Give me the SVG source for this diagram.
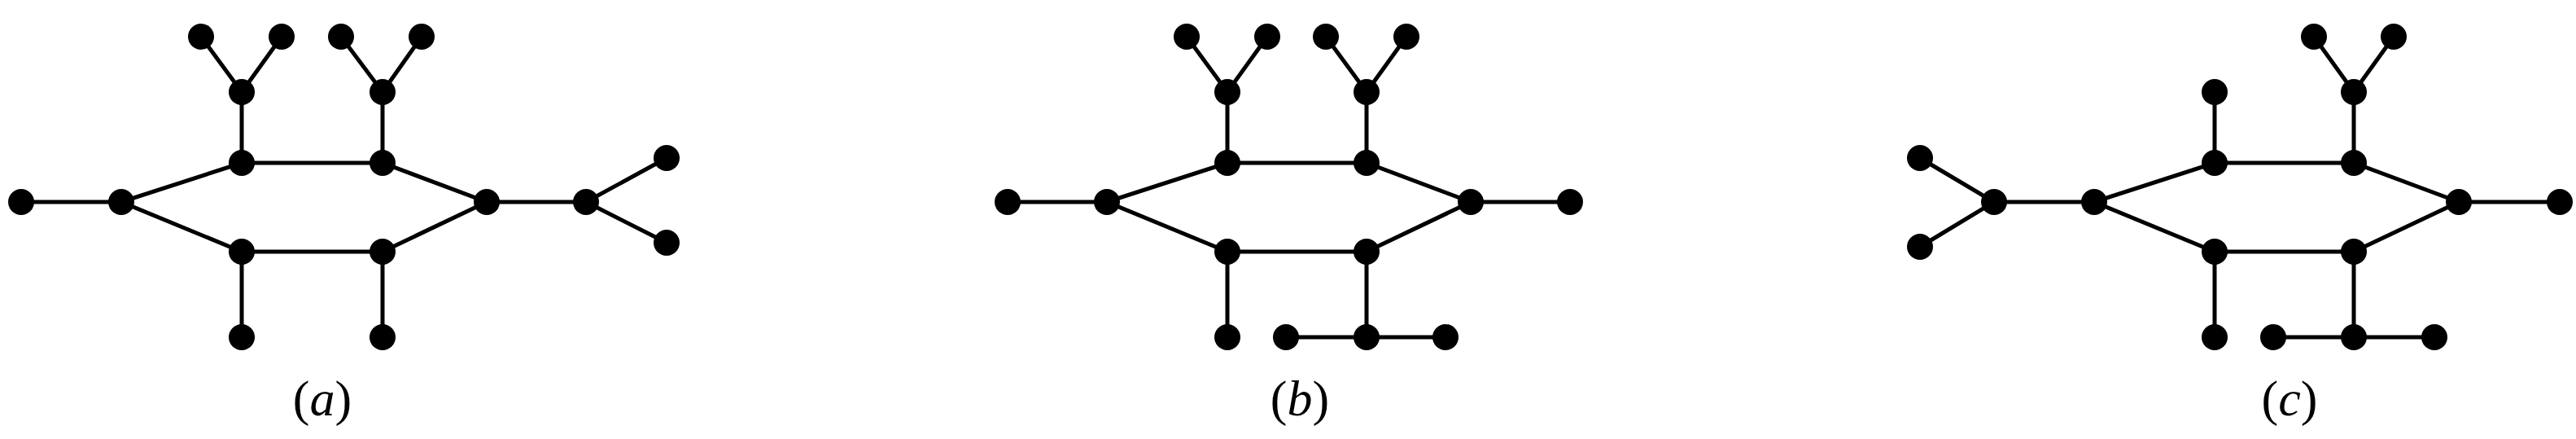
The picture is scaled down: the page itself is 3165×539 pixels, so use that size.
<svg xmlns="http://www.w3.org/2000/svg" width="3165" height="539" viewBox="0 0 3165 539">
<style>
.e{stroke:#000;stroke-width:5;fill:none}
.n{fill:#000}
.t{font-family:"Liberation Serif",serif;font-size:62px;fill:#000;text-anchor:middle}
</style>
<rect width="3165" height="539" fill="#fff"/>
<g id="connectors" class="e">
<path d="M26 248H149L297 200H470L598 248L470 309H297L149 248M598 248H720L819 194M720 248L819 298M297 200V113L247 45M297 113L346 45M470 200V113L419 45M470 113L518 45M297 309V414M470 309V414"/>
<path d="M1238 248H1360L1508 200H1679L1807 248L1679 309H1508L1360 248M1807 248H1929M1508 200V113L1458 45M1508 113L1557 45M1679 200V113L1629 45M1679 113L1728 45M1508 309V414M1679 309V414M1580 414H1776"/>
<path d="M2359 194L2450 248L2359 303M2450 248H2573L2721 200H2892L3021 248L2892 309H2721L2573 248M3021 248H3145M2721 200V113M2892 200V113L2843 45M2892 113L2941 45M2721 309V414M2892 309V414M2793 414H2991"/>
</g>
<g id="nodes-a" class="n">
<circle cx="26" cy="248" r="16"/><circle cx="149" cy="248" r="16"/><circle cx="297" cy="200" r="16"/><circle cx="470" cy="200" r="16"/><circle cx="297" cy="309" r="16"/><circle cx="470" cy="309" r="16"/><circle cx="598" cy="248" r="16"/><circle cx="720" cy="248" r="16"/><circle cx="819" cy="194" r="16"/><circle cx="819" cy="298" r="16"/><circle cx="297" cy="113" r="16"/><circle cx="470" cy="113" r="16"/><circle cx="247" cy="45" r="16"/><circle cx="346" cy="45" r="16"/><circle cx="419" cy="45" r="16"/><circle cx="518" cy="45" r="16"/><circle cx="297" cy="414" r="16"/><circle cx="470" cy="414" r="16"/>
</g>
<g id="nodes-b" class="n">
<circle cx="1238" cy="248" r="16"/><circle cx="1360" cy="248" r="16"/><circle cx="1508" cy="200" r="16"/><circle cx="1679" cy="200" r="16"/><circle cx="1508" cy="309" r="16"/><circle cx="1679" cy="309" r="16"/><circle cx="1807" cy="248" r="16"/><circle cx="1929" cy="248" r="16"/><circle cx="1508" cy="113" r="16"/><circle cx="1679" cy="113" r="16"/><circle cx="1458" cy="45" r="16"/><circle cx="1557" cy="45" r="16"/><circle cx="1629" cy="45" r="16"/><circle cx="1728" cy="45" r="16"/><circle cx="1508" cy="414" r="16"/><circle cx="1580" cy="414" r="16"/><circle cx="1679" cy="414" r="16"/><circle cx="1776" cy="414" r="16"/>
</g>
<g id="nodes-c" class="n">
<circle cx="2359" cy="194" r="16"/><circle cx="2359" cy="303" r="16"/><circle cx="2450" cy="248" r="16"/><circle cx="2573" cy="248" r="16"/><circle cx="2721" cy="200" r="16"/><circle cx="2892" cy="200" r="16"/><circle cx="2721" cy="309" r="16"/><circle cx="2892" cy="309" r="16"/><circle cx="3021" cy="248" r="16"/><circle cx="3145" cy="248" r="16"/><circle cx="2721" cy="113" r="16"/><circle cx="2892" cy="113" r="16"/><circle cx="2843" cy="45" r="16"/><circle cx="2941" cy="45" r="16"/><circle cx="2721" cy="414" r="16"/><circle cx="2793" cy="414" r="16"/><circle cx="2892" cy="414" r="16"/><circle cx="2991" cy="414" r="16"/>
</g>
<g id="labels">
<text class="t" x="396" y="510">(<tspan font-style="italic">a</tspan>)</text>
<text class="t" x="1597" y="510">(<tspan font-style="italic">b</tspan>)</text>
<text class="t" x="2813" y="510">(<tspan font-style="italic">c</tspan>)</text>
</g>
</svg>
